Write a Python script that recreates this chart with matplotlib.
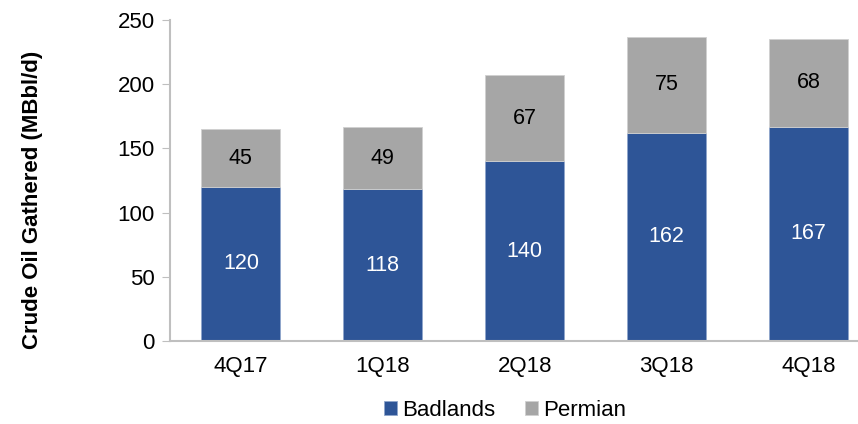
import matplotlib
matplotlib.use("Agg")
import matplotlib.pyplot as plt
import numpy as np

plt.rcParams['font.family'] = ['Liberation Sans', 'DejaVu Sans']

quarters = ["4Q17", "1Q18", "2Q18", "3Q18", "4Q18"]
badlands = [120, 118, 140, 162, 167]
permian = [45, 49, 67, 75, 68]
yticks = [0, 50, 100, 150, 200, 250]

blue = "#2E5597"
grey = "#A6A6A6"

fig = plt.figure(figsize=(8.58, 4.24), dpi=100)
ax = fig.add_axes([170/858, 1-341/424, 1-170/858, (341-20)/424])

x = np.arange(len(quarters))
w = 0.556
b1 = ax.bar(x, badlands, w, color=blue, edgecolor="#8FA6CC", linewidth=0.6, label="Badlands")
b2 = ax.bar(x, permian, w, bottom=badlands, color=grey, edgecolor="#D0D0D0", linewidth=0.6, label="Permian")

for xi, b, p in zip(x, badlands, permian):
    ax.text(xi, b/2, str(b), ha="center", va="center", color="white", fontsize=15.5)
    ax.text(xi, b + p/2, str(p), ha="center", va="center", color="black", fontsize=15.5)

ax.set_xlim(-0.5, 4.35)
ax.set_ylim(0, 250)
ax.set_yticks(yticks)
ax.set_xticks(x)
ax.set_xticklabels(quarters)
ax.tick_params(axis="y", length=6, color="#BFBFBF", labelsize=16, pad=5)
ax.tick_params(axis="x", length=0, labelsize=16, pad=11)
for s in ["top", "right"]:
    ax.spines[s].set_visible(False)
for s in ["left", "bottom"]:
    ax.spines[s].set_color("#BFBFBF")
    ax.spines[s].set_linewidth(1.5)

fig.text(33/858, 1-200/424, "Crude Oil Gathered (MBbl/d)", rotation=90, ha="center", va="center",
         fontsize=16, fontweight="bold")

fig.legend(handles=[b1, b2], labels=["Badlands", "Permian"], loc="center",
           bbox_to_anchor=(505/858, 1-410/424), ncol=2, frameon=False, fontsize=16,
           handlelength=0.6, handleheight=0.6, handletextpad=0.25, columnspacing=1.3)

fig.savefig("out.png", dpi=100)
